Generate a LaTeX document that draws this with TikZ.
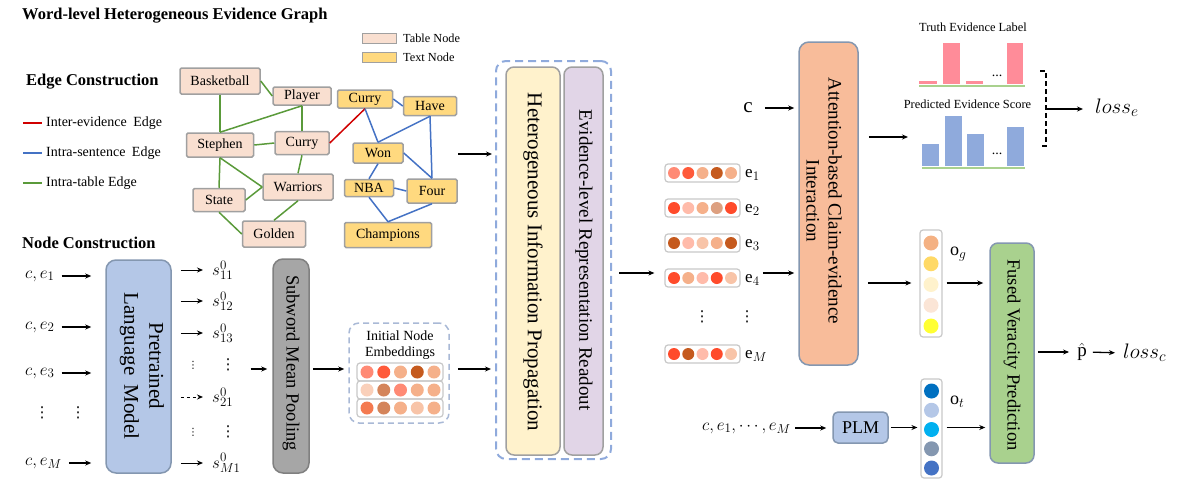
\RequirePackage{fix-cm}
\documentclass[tikz,border=0pt]{standalone}
\usepackage{fontspec}
\setmainfont{Liberation Serif}
\newfontfamily\dejavu{DejaVu Sans}
\usetikzlibrary{arrows.meta,calc}
\DeclareMathSizes{17}{17}{13}{10}
\DeclareMathSizes{18}{18}{13.5}{10}
\DeclareMathSizes{19}{19}{14.5}{11}
\DeclareMathSizes{21}{21}{15.5}{12}
\definecolor{tabfill}{HTML}{F9DFD0}
\definecolor{txtfill}{HTML}{FFD97F}
\definecolor{nodeborder}{HTML}{A0A0A0}
\definecolor{tgreen}{HTML}{5A9A3A}
\definecolor{sblue}{HTML}{4472C4}
\definecolor{ered}{HTML}{D00000}
\definecolor{plmfill}{HTML}{B4C7E7}
\definecolor{plmborder}{HTML}{8497B0}
\definecolor{poolfill}{HTML}{A6A6A6}
\definecolor{poolborder}{HTML}{808080}
\definecolor{hipfill}{HTML}{FFF2CC}
\definecolor{erfill}{HTML}{E1D5E7}
\definecolor{attfill}{HTML}{F8BC9A}
\definecolor{fusedfill}{HTML}{A9D18E}
\definecolor{dashblue}{HTML}{8FAADC}
\definecolor{embdash}{HTML}{A9B9D6}
\definecolor{pinkbar}{HTML}{FF8C99}
\definecolor{bluebar}{HTML}{8FAADC}
\definecolor{basegreen}{HTML}{A9D18E}
\definecolor{vecborder}{HTML}{C8C8C8}
\definecolor{sal}{HTML}{FF8A75}
\definecolor{redo}{HTML}{FF5A3A}
\definecolor{lor}{HTML}{F5B08A}
\definecolor{dbr}{HTML}{C55A1E}
\definecolor{pal}{HTML}{FAD0BA}
\definecolor{brn}{HTML}{D4845A}
\definecolor{ora}{HTML}{F47A50}
\definecolor{lpe}{HTML}{F8C4A8}
\definecolor{pnk}{HTML}{FFBBAA}
\definecolor{rr}{HTML}{FF4B2B}
\definecolor{tan}{HTML}{DDA080}
\definecolor{og1}{HTML}{F4B183}
\definecolor{og2}{HTML}{FFD966}
\definecolor{og3}{HTML}{FFF2CC}
\definecolor{og4}{HTML}{FBE5D6}
\definecolor{og5}{HTML}{FFFF33}
\definecolor{ot1}{HTML}{0070C0}
\definecolor{ot2}{HTML}{B4C7E7}
\definecolor{ot3}{HTML}{00B0F0}
\definecolor{ot4}{HTML}{8497B0}
\definecolor{ot5}{HTML}{4472C4}
\newcommand\myhrow[5]{\foreach \col [count=\i from 0] in {#4} \fill[\col] ({#1+#2*\i},#3) circle (#5);}
\newcommand\myvrow[5]{\foreach \col [count=\i from 0] in {#4} \fill[\col] (#1,{#2+#3*\i}) circle (#5);}
\newcommand\myvdots{{\dejavu ⋮}}
\begin{document}
\begin{tikzpicture}[x=1pt,y=-1pt,
  gnode/.style={draw=nodeborder, line width=1.5, rounded corners=1.5, inner sep=0, font=\fontsize{14}{16}\selectfont},
  tab/.style={gnode, fill=tabfill},
  txt/.style={gnode, fill=txtfill},
  arr/.style={-{Stealth[length=6,width=5]}, line width=1.3},
  tedge/.style={tgreen, line width=1.5},
  sedge/.style={sblue, line width=1.5},
  head/.style={font=\fontsize{16.5}{18}\selectfont\bfseries, inner sep=0, anchor=west},
  leg/.style={font=\fontsize{14}{16}\selectfont, inner sep=0, anchor=west},
  mlab/.style={font=\fontsize{17}{20}\selectfont, inner sep=0},
  vdot/.style={font=\fontsize{15}{16}\selectfont, inner sep=0},
  vbox/.style={draw=#1, line width=1.5, rounded corners=10, inner sep=0},
  vtext/.style={rotate=-90, align=center, inner sep=0},
  rowbox/.style={draw=vecborder, line width=1.2, rounded corners=3, minimum height=18, inner sep=0},
  colbox/.style={draw=vecborder, line width=1.2, rounded corners=3, inner sep=0}
]
\useasboundingbox (0,0) rectangle (1182,485);

% ---------- headings and legend
\node[head] (title) at (22,16) {Word-level Heterogeneous Evidence Graph};
\node[head] (edgec) at (26,82) {Edge Construction};
\node[head] (nodec) at (22,243) {Node Construction};
\draw[ered, line width=1.5] (23,123) -- (42,123);
\draw[sblue, line width=1.5] (23,153) -- (42,153);
\draw[tgreen, line width=1.5] (23,183) -- (42,183);
\node[leg] (l1) at (46,123) {Inter-evidence\hspace{3pt} Edge};
\node[leg] (l2) at (46,153) {Intra-sentence\hspace{3pt} Edge};
\node[leg] (l3) at (46,183) {Intra-table Edge};
\node[draw=nodeborder, line width=1, fill=tabfill, minimum width=34, minimum height=10, inner sep=0] (swt) at (379,38) {};
\node[draw=nodeborder, line width=1, fill=txtfill, minimum width=34, minimum height=10, inner sep=0] (swx) at (379,57.5) {};
\node[leg, font=\fontsize{12.3}{14}\selectfont] (lt) at (403,38) {Table Node};
\node[leg, font=\fontsize{12.3}{14}\selectfont] (lx) at (403,57.5) {Text Node};

% ---------- graph nodes
\node[tab, minimum width=80, minimum height=26] (bball) at (220,81) {Basketball};
\node[tab, minimum width=58, minimum height=18] (player) at (302,96) {Player};
\node[tab, minimum width=67, minimum height=24] (stephen) at (220,145) {Stephen};
\node[tab, minimum width=54, minimum height=23] (currytab) at (302,143) {Curry};
\node[tab, minimum width=70, minimum height=26] (warriors) at (298,187) {Warriors};
\node[tab, minimum width=52, minimum height=23] (state) at (219,200) {State};
\node[tab, minimum width=63, minimum height=26] (golden) at (274,234) {Golden};
\node[txt, minimum width=55, minimum height=18] (currytxt) at (365,99) {Curry};
\node[txt, minimum width=53, minimum height=19] (have) at (430,106) {Have};
\node[txt, minimum width=50, minimum height=20] (won) at (378,153) {Won};
\node[txt, minimum width=49, minimum height=17] (nba) at (369,188) {NBA};
\node[txt, minimum width=50, minimum height=24] (four) at (432,191) {Four};
\node[txt, minimum width=87, minimum height=25] (champ) at (388,235) {Champions};

\draw[tedge] (bball.east) -- (player.west);
\draw[tedge] (bball.south) -- (stephen.north);
\draw[tedge] (stephen.north) -- (player.south);
\draw[tedge] (player.south) -- (currytab.north);
\draw[tedge] (stephen.east) -- (currytab.west);
\draw[tedge] (currytab.south) -- (warriors.north);
\draw[tedge] (stephen.south) -- (warriors.west);
\draw[tedge] (stephen.south) -- (state.north);
\draw[tedge] (state.east) -- (warriors.west);
\draw[tedge] (state.south) -- (golden.west);
\draw[tedge] (warriors.south) -- (golden.north);
\draw[ered, line width=1.5] (currytab.east) -- (currytxt.south);
\draw[sedge] (currytxt.east) -- (have.west);
\draw[sedge] (currytxt.south) -- (won.north);
\draw[sedge] (won.north) -- (have.south);
\draw[sedge] (have.south) -- (four.north);
\draw[sedge] (won.east) -- (four.north);
\draw[sedge] (won.south) -- (nba.north);
\draw[sedge] (nba.east) -- (four.west);
\draw[sedge] (nba.south) -- (champ.north);
\draw[sedge] (four.south) -- (champ.north);

% ---------- node construction
\node[mlab, anchor=west] (ce1) at (25,276) {$c,e_1$};
\node[mlab, anchor=west] (ce2) at (25,327) {$c,e_2$};
\node[mlab, anchor=west] (ce3) at (25,373) {$c,e_3$};
\node[mlab, anchor=west] (ceM) at (25,463) {$c,e_M$};
\node[vdot] (cd1) at (42,413) {\myvdots};
\node[vdot] (cd2) at (78,413) {\myvdots};
\node[vbox=plmborder, fill=plmfill, minimum width=65, minimum height=213] (plm) at (138.5,366.5) {};
\node[vtext, font=\fontsize{21}{25}\selectfont] (plmt) at (142,366) {Pretrained\\Language\hspace{4pt} Model};
\foreach \n in {ce1,ce2,ce3,ceM}
  \draw[arr, shorten <=7, shorten >=14] (\n.east) -- (\n.east -| plm.west);

\node[mlab, anchor=west] (s11) at (212,270) {$s^0_{11}$};
\node[mlab, anchor=west] (s12) at (212,301) {$s^0_{12}$};
\node[mlab, anchor=west] (s13) at (212,333) {$s^0_{13}$};
\node[mlab, anchor=west] (s21) at (212,397) {$s^0_{21}$};
\node[mlab, anchor=west] (sM1) at (212,463) {$s^0_{M1}$};
\node[vdot] (vd1) at (228,365) {\myvdots};
\node[vdot] (vd2) at (228,432) {\myvdots};
\node[vdot, font=\fontsize{10}{11}\selectfont] (sd1) at (193,365) {\myvdots};
\node[vdot, font=\fontsize{10}{11}\selectfont] (sd2) at (193,432) {\myvdots};
\foreach \n in {s11,s12,s13,sM1}
  \draw[arr, line width=1, shorten <=9, shorten >=9] (plm.east |- \n.west) -- (\n.west);
\draw[arr, line width=1, dashed, shorten <=9, shorten >=9] (plm.east |- s21.west) -- (s21.west);

\node[vbox=poolborder, fill=poolfill, minimum width=36, minimum height=214] (pool) at (291,366) {};
\node[vtext, font=\fontsize{18.5}{22}\selectfont] (poolt) at (291,363) {Subword Mean Pooling};
\coordinate (row) at (0,369);
\draw[arr, shorten <=15, shorten >=5] (row -| vd1.east) -- (row -| pool.west);

% ---------- initial node embeddings
\node[draw=embdash, line width=1.5, dash pattern=on 6pt off 4pt, rounded corners=10, minimum width=100, minimum height=100, inner sep=0] (emb) at (399,373) {};
\node[font=\fontsize{14}{16}\selectfont, align=center, inner sep=0] (embt) at (400,345) {Initial Node\\Embeddings};
\node[rowbox, minimum width=86] (er1) at (400,372) {};
\node[rowbox, minimum width=86] (er2) at (400,390) {};
\node[rowbox, minimum width=86] (er3) at (400,408) {};
\myhrow{367}{16.75}{372}{sal,redo,lor,dbr,lor}{6.5}
\myhrow{367}{16.75}{390}{pal,brn,sal,lor,lor}{6.5}
\myhrow{367}{16.75}{408}{ora,brn,lor,lpe,lor}{6.5}
\draw[arr, shorten <=3, shorten >=4] (row -| pool.east) -- (row -| emb.west);

% ---------- propagation / readout
\node[draw=dashblue, line width=2, dash pattern=on 8pt off 5pt, rounded corners=10, minimum width=115, minimum height=398, inner sep=0] (dbox) at (553.5,260) {};
\node[vbox=nodeborder, fill=hipfill, rounded corners=8, minimum width=54, minimum height=388] (hip) at (533,261) {};
\node[vbox=nodeborder, fill=erfill, rounded corners=8, minimum width=39, minimum height=388] (er) at (583.5,261) {};
\node[vtext, font=\fontsize{21}{24}\selectfont] (hipt) at (533,262) {Heterogeneous Information Propagation};
\node[vtext, font=\fontsize{19}{22}\selectfont] (ert) at (584,260) {Evidence-level Representation Readout};
\coordinate (gin) at (458,154);
\draw[arr, shorten >=3] (gin) -- (gin -| dbox.west);
\draw[arr, shorten <=8, shorten >=4] (row -| emb.east) -- (row -| dbox.west);

% ---------- evidence vectors
\node[rowbox, minimum width=75] (v1) at (702.5,173) {};
\node[rowbox, minimum width=75] (v2) at (702.5,208) {};
\node[rowbox, minimum width=75] (v3) at (702.5,243) {};
\node[rowbox, minimum width=75] (v4) at (702.5,278) {};
\node[rowbox, minimum width=75] (vM) at (702.5,354) {};
\myhrow{674}{14.25}{173}{sal,redo,lor,dbr,lor}{6}
\myhrow{674}{14.25}{208}{rr,pnk,lor,tan,rr}{6}
\myhrow{674}{14.25}{243}{dbr,pnk,lpe,lor,dbr}{6}
\myhrow{674}{14.25}{278}{rr,lor,pnk,rr,lpe}{6}
\myhrow{674}{14.25}{354}{rr,dbr,pnk,rr,lpe}{6}
\node[mlab, anchor=west] (le1) at (745,175) {$\mathrm{e}_1$};
\node[mlab, anchor=west] (le2) at (745,210) {$\mathrm{e}_2$};
\node[mlab, anchor=west] (le3) at (745,245) {$\mathrm{e}_3$};
\node[mlab, anchor=west] (le4) at (745,280) {$\mathrm{e}_4$};
\node[mlab, anchor=west] (leM) at (745,356) {$\mathrm{e}_M$};
\node[vdot] (ed1) at (702,317) {\myvdots};
\node[vdot] (ed2) at (747,317) {\myvdots};
\coordinate (r273) at (0,273);
\draw[arr, shorten <=7, shorten >=10] (r273 -| dbox.east) -- (r273 -| v4.west);

% ---------- attention
\node[vbox=plmborder, fill=attfill, minimum width=59, minimum height=323] (att) at (828.5,203.5) {};
\node[vtext, font=\fontsize{19}{22}\selectfont] (attt) at (824,201) {Attention-based Claim-evidence\\Interaction};
\node[mlab, font=\fontsize{21}{24}\selectfont] (cin) at (748,108) {$\mathrm{c}$};
\draw[arr, shorten <=12, shorten >=4] (cin.east) -- (cin.east -| att.west);
\draw[arr, shorten <=3, shorten >=4] (r273 -| le4.east) -- (r273 -| att.west);

% ---------- evidence bars
\node[font=\fontsize{12.4}{14}\selectfont, inner sep=0] (truth) at (973,27) {Truth Evidence Label};
\fill[pinkbar] (919,81) rectangle (937,84);
\fill[pinkbar] (943,43) rectangle (960,84);
\fill[pinkbar] (966,81) rectangle (983,84);
\fill[pinkbar] (1007,43) rectangle (1023,84);
\node[font=\fontsize{14}{16}\selectfont, inner sep=0] (tdots) at (997,76) {...};
\draw[basegreen, line width=2.2] (919,86) -- (1025,86);
\node[font=\fontsize{12.4}{14}\selectfont, inner sep=0] (pred) at (967.5,104) {Predicted Evidence Score};
\fill[bluebar] (922,144) rectangle (939,166);
\fill[bluebar] (945,116) rectangle (962,166);
\fill[bluebar] (967,134) rectangle (984,166);
\fill[bluebar] (1007,127) rectangle (1024,166);
\node[font=\fontsize{14}{16}\selectfont, inner sep=0] (pdots) at (997,154) {...};
\draw[basegreen, line width=2.2] (922,168) -- (1025,168);
\coordinate (pbar) at (908,137);
\draw[arr, shorten <=10] (pbar -| att.east) -- (pbar);
\draw[line width=1.2, dash pattern=on 5pt off 3pt] (1040,71) -- (1046,71) -- (1046,146) -- (1040,146);
\node[mlab, font=\fontsize{21}{24}\selectfont, anchor=west] (losse) at (1095,108) {$loss_e$};
\coordinate (brk) at (1046,109);
\draw[arr, shorten >=12] (brk) -- (brk -| losse.west);

% ---------- output vectors and fusion
\coordinate (r283) at (0,283);
\node[colbox, minimum width=22, minimum height=107] (og) at (931,283.5) {};
\myvrow{931}{243}{20.75}{og1,og2,og3,og4,og5}{7.5}
\node[mlab, font=\fontsize{18}{20}\selectfont, anchor=west] (ogl) at (950,254) {$\mathrm{o}_g$};
\node[colbox, minimum width=21, minimum height=99] (ot) at (931.5,428.5) {};
\myvrow{931.5}{391}{19.25}{ot1,ot2,ot3,ot4,ot5}{7.5}
\node[mlab, font=\fontsize{18}{20}\selectfont, anchor=west] (otl) at (950,402) {$\mathrm{o}_t$};
\node[vbox=plmborder, fill=fusedfill, rounded corners=8, minimum width=44, minimum height=220] (fused) at (1012,353) {};
\node[vtext, font=\fontsize{18.5}{22}\selectfont] (fusedt) at (1012,355) {Fused Veracity Prediction};
\draw[arr, shorten <=9, shorten >=8] (r283 -| att.east) -- (r283 -| og.west);
\draw[arr, shorten <=4, shorten >=6] (r283 -| og.east) -- (r283 -| fused.west);
\node[vbox=plmborder, fill=plmfill, rounded corners=5, minimum width=55, minimum height=31, font=\fontsize{18}{20}\selectfont] (plm2) at (860.5,427.5) {PLM};
\node[mlab, anchor=west] (cin2) at (702,428) {$c,e_1,\cdots,e_M$};
\draw[arr, shorten <=4, shorten >=6] (cin2.east) -- (cin2.east -| plm2.west);
\draw[arr, shorten <=2, shorten >=3] (plm2.east) -- (plm2.east -| ot.west);
\draw[arr, shorten <=4, shorten >=4] (plm2.east -| ot.east) -- (plm2.east -| fused.west);
\node[mlab, font=\fontsize{19}{22}\selectfont] (phat) at (1082,352) {$\hat{\mathrm{p}}$};
\node[mlab, font=\fontsize{21}{24}\selectfont, anchor=west] (lossc) at (1123,353) {$loss_c$};
\draw[arr, shorten <=3, shorten >=8] (fused.east |- phat) -- (phat.west);
\draw[arr, shorten <=6, shorten >=8] (phat.east) -- (lossc.west);
\end{tikzpicture}
\end{document}
